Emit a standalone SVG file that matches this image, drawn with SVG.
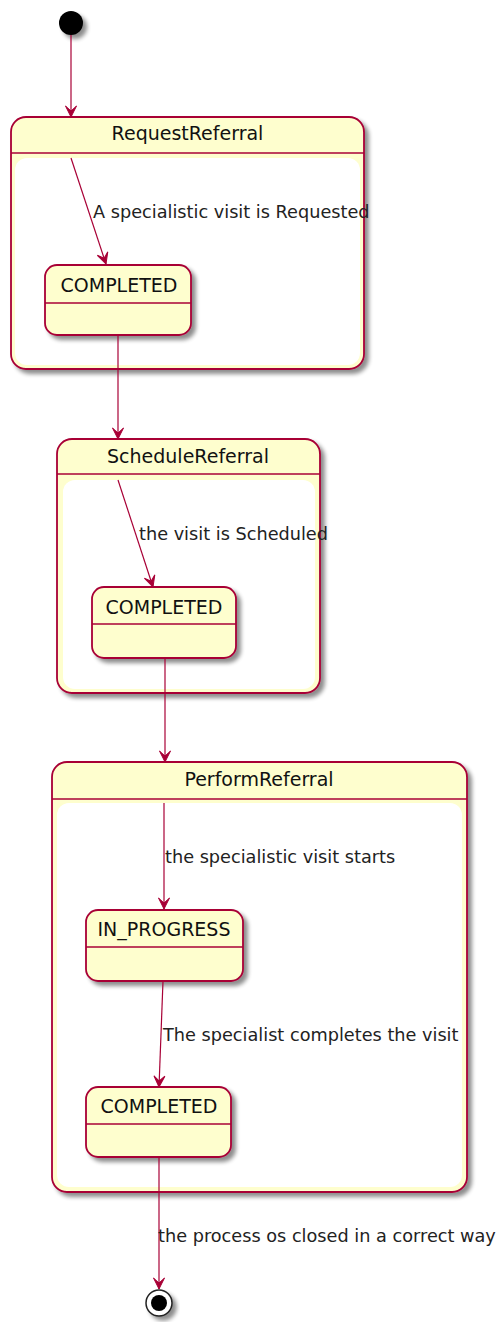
<svg xmlns="http://www.w3.org/2000/svg" width="498" height="1322" viewBox="0 0 498 1322">
<style>
.st{fill:#FEFECE;stroke:#A80036;stroke-width:1.8}
.inner{fill:#FFFFFF;stroke:none}
.sep{stroke:#A80036;stroke-width:1.5}
.title{font-family:"DejaVu Sans",sans-serif;font-size:19px;fill:#111;text-anchor:middle}
.lbl{font-family:"DejaVu Sans",sans-serif;font-size:17.7px;fill:#222}
.edge{stroke:#A80036;stroke-width:1.2;fill:none;marker-end:url(#ah)}
</style>
<defs>
<filter id="sh" x="-20%" y="-20%" width="150%" height="150%">
<feGaussianBlur in="SourceAlpha" stdDeviation="2"/>
<feOffset dx="4" dy="4" result="o"/>
<feComponentTransfer><feFuncA type="linear" slope="0.45"/></feComponentTransfer>
<feMerge><feMergeNode/><feMergeNode in="SourceGraphic"/></feMerge>
</filter>
<marker id="ah" viewBox="-1 -7 13 14" refX="11" refY="0" markerWidth="13" markerHeight="14" markerUnits="userSpaceOnUse" orient="auto">
<path d="M0,-5.5 L11,0 L0,5.5 L5,0 Z" fill="#A80036" stroke="#A80036" stroke-width="1"/>
</marker>
</defs>
<rect width="498" height="1322" fill="#FFFFFF"/>

<g id="start"><circle cx="71" cy="23" r="12" fill="#000" filter="url(#sh)"/></g>

<g id="RequestReferral">
<rect class="st" x="11" y="117" width="353" height="252" rx="15" filter="url(#sh)"/>
<rect class="inner" x="15" y="158" width="345" height="207" rx="12"/>
<line class="sep" x1="11" y1="153" x2="364" y2="153"/>
<text class="title" x="187.5" y="140">RequestReferral</text>
</g>
<g id="RequestReferral_COMPLETED">
<rect class="st" x="45" y="265" width="146" height="70" rx="12" filter="url(#sh)"/>
<line class="sep" x1="45" y1="303" x2="191" y2="303"/>
<text class="title" x="119" y="292">COMPLETED</text>
</g>

<g id="ScheduleReferral">
<rect class="st" x="57" y="439" width="263" height="254" rx="15" filter="url(#sh)"/>
<rect class="inner" x="63" y="480" width="252" height="209" rx="12"/>
<line class="sep" x1="57" y1="474" x2="320" y2="474"/>
<text class="title" x="188" y="463">ScheduleReferral</text>
</g>
<g id="ScheduleReferral_COMPLETED">
<rect class="st" x="92" y="587" width="144" height="71" rx="12" filter="url(#sh)"/>
<line class="sep" x1="92" y1="624" x2="236" y2="624"/>
<text class="title" x="164" y="614">COMPLETED</text>
</g>

<g id="PerformReferral">
<rect class="st" x="52" y="762" width="415" height="430" rx="15" filter="url(#sh)"/>
<rect class="inner" x="57" y="803" width="405" height="384" rx="12"/>
<line class="sep" x1="52" y1="799" x2="467" y2="799"/>
<text class="title" x="259" y="786">PerformReferral</text>
</g>
<g id="PerformReferral_IN_PROGRESS">
<rect class="st" x="86" y="910" width="157" height="71" rx="12" filter="url(#sh)"/>
<line class="sep" x1="86" y1="947" x2="243" y2="947"/>
<text class="title" x="164" y="936">IN_PROGRESS</text>
</g>
<g id="PerformReferral_COMPLETED">
<rect class="st" x="86" y="1087" width="145" height="70" rx="12" filter="url(#sh)"/>
<line class="sep" x1="86" y1="1124" x2="231" y2="1124"/>
<text class="title" x="159" y="1113">COMPLETED</text>
</g>

<g id="end">
<circle cx="159" cy="1303" r="13" fill="#FFFFFF" stroke="#222" stroke-width="1.5" filter="url(#sh)"/>
<circle cx="159" cy="1303" r="8" fill="#000"/>
</g>

<g id="connectors">
<line class="edge" x1="71" y1="35" x2="71" y2="117"/>
<line class="edge" x1="71" y1="158" x2="106" y2="264"/>
<text class="lbl" x="93" y="218">A specialistic visit is Requested</text>
<line class="edge" x1="118" y1="335" x2="118" y2="439"/>
<line class="edge" x1="118" y1="480" x2="153" y2="587"/>
<text class="lbl" x="139" y="540">the visit is Scheduled</text>
<line class="edge" x1="165" y1="658" x2="165" y2="762"/>
<line class="edge" x1="164" y1="803" x2="164" y2="909"/>
<text class="lbl" x="165" y="863">the specialistic visit starts</text>
<line class="edge" x1="163" y1="981" x2="159" y2="1087"/>
<text class="lbl" x="163" y="1041">The specialist completes the visit</text>
<line class="edge" x1="159" y1="1157" x2="159" y2="1289"/>
<text class="lbl" x="158" y="1242">the process os closed in a correct way</text>
</g>
</svg>
